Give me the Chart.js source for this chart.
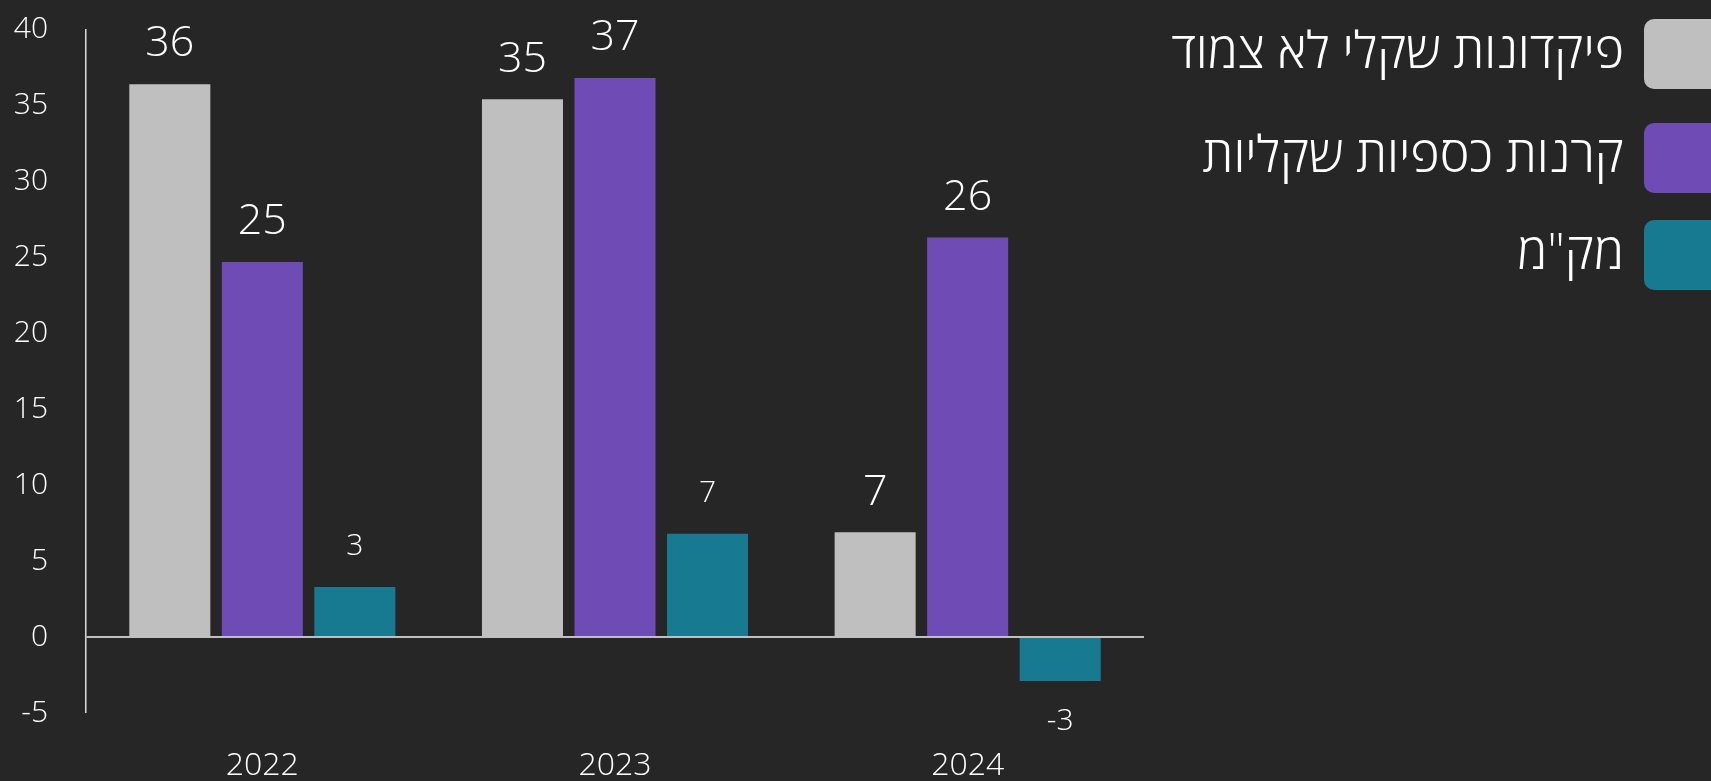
<!DOCTYPE html>
<html lang="he">
<head>
  <meta charset="UTF-8">
  <title>תשואות</title>
  <script src="https://cdn.jsdelivr.net/npm/chart.js"></script>
  <style>
    html, body {
      margin: 0;
      padding: 0;
      background: #262626;
      overflow: hidden;
    }
    canvas {
      display: block;
    }
  </style>
</head>
<body>
  <canvas id="grafico" width="1711" height="781"></canvas>

  <script>
    // data
    const anos = ["2022", "2023", "2024"];
    const serieNomes = ["פיקדונות שקלי לא צמוד", "קרנות כספיות שקליות", "מק\"מ"];
    const pikdonot = [36.4, 35.4, 6.9];
    const kranot = [24.7, 36.8, 26.3];
    const makam = [3.3, 6.8, -2.9];
    const yTicks = [40, 35, 30, 25, 20, 15, 10, 5, 0, -5];

    const cores = ["#bfbfbf", "#6f4cb5", "#187a90"];
    const fonte = "'Open Sans', 'DejaVu Sans', sans-serif";

    // rounded value labels above (or below) each bar
    const rotulos = {
      id: "rotulos",
      afterDatasetsDraw(chart) {
        const ctx = chart.ctx;
        ctx.save();
        ctx.fillStyle = "#ffffff";
        ctx.textAlign = "center";
        ctx.textBaseline = "middle";
        chart.data.datasets.forEach((ds, i) => {
          const meta = chart.getDatasetMeta(i);
          const tam = i === 2 ? 30 : 43;
          ctx.font = "300 " + tam + "px " + fonte;
          meta.data.forEach((bar, j) => {
            const v = ds.data[j];
            const y = v >= 0 ? bar.y - 40 : bar.y + 40;
            ctx.fillText(String(Math.round(v)), bar.x, y);
          });
        });
        ctx.restore();
      }
    };

    // legend on the right, boxes cut by the edge
    const legenda = {
      id: "legenda",
      afterDraw(chart) {
        const ctx = chart.ctx;
        const centros = [54, 158, 255];
        ctx.save();
        chart.data.datasets.forEach((ds, i) => {
          const cy = centros[i];
          ctx.fillStyle = ds.backgroundColor;
          ctx.beginPath();
          ctx.roundRect(1644, cy - 35, 100, 70, 10);
          ctx.fill();
          ctx.fillStyle = "#ffffff";
          ctx.font = "300 50px " + fonte;
          ctx.direction = "rtl";
          ctx.textAlign = "right";
          ctx.textBaseline = "middle";
          ctx.fillText(ds.label, 1624, cy);
        });
        ctx.restore();
      }
    };

    const ctx = document.getElementById("grafico").getContext("2d");

    new Chart(ctx, {
      type: "bar",
      data: {
        labels: anos,
        datasets: [
          { label: serieNomes[0], data: pikdonot, backgroundColor: cores[0] },
          { label: serieNomes[1], data: kranot, backgroundColor: cores[1] },
          { label: serieNomes[2], data: makam, backgroundColor: cores[2] }
        ]
      },
      options: {
        responsive: false,
        animation: false,
        categoryPercentage: 0.787,
        barPercentage: 0.876,
        layout: {
          padding: { top: 29.5, right: 567, left: 0, bottom: 0 }
        },
        plugins: {
          legend: { display: false },
          tooltip: { enabled: false }
        },
        scales: {
          x: {
            grid: { display: false, drawTicks: false },
            border: { display: false },
            ticks: {
              color: "#ffffff",
              padding: 34,
              font: { family: fonte, size: 32, weight: 300 }
            },
            afterFit(scale) { scale.height = 68; }
          },
          y: {
            min: -5,
            max: 40,
            afterBuildTicks(scale) {
              scale.ticks = yTicks.map(v => ({ value: v }));
            },
            grid: {
              drawTicks: false,
              color: c => c.tick && c.tick.value === 0 ? "#bfbfbf" : "rgba(0,0,0,0)",
              lineWidth: c => c.tick && c.tick.value === 0 ? 2 : 0
            },
            border: { display: true, color: "#d9d9d9", width: 1.5 },
            ticks: {
              color: "#ffffff",
              padding: 38,
              font: { family: fonte, size: 30, weight: 300 }
            },
            afterFit(scale) {
              scale.width = 86;
              scale.paddingTop = 0;
              scale.paddingBottom = 0;
            }
          }
        }
      },
      plugins: [rotulos, legenda]
    });
  </script>
</body>
</html>
